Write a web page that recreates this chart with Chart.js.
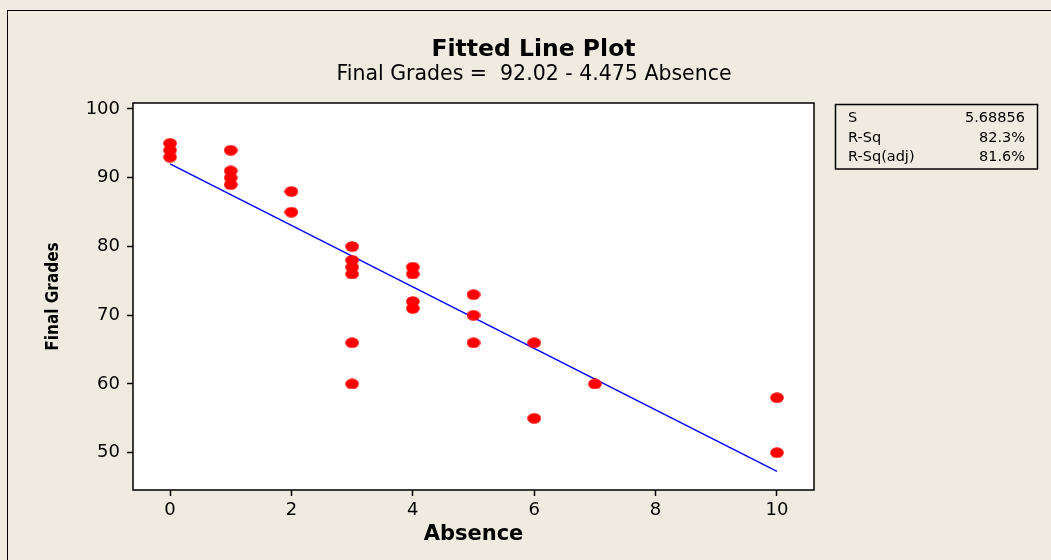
<!DOCTYPE html>
<html>
<head>
    <meta charset="UTF-8">
    <title>Fitted Line Plot</title>
    <script src="https://cdn.jsdelivr.net/npm/chart.js@4.4.1/dist/chart.umd.min.js"></script>
    <style>
        html, body {
            margin: 0;
            padding: 0;
            background: #EFEBE0;
        }
        #wrap {
            width: 1051px;
            height: 560px;
        }
    </style>
</head>
<body>
    <div id="wrap"><canvas id="chart" width="1051" height="560"></canvas></div>

    <script>
        // 観測値 (Absence, Final Grades)
        const absence = [0, 0, 0, 1, 1, 1, 1, 2, 2, 3, 3, 3, 3, 3, 3, 4, 4, 4, 4, 5, 5, 5, 6, 6, 7, 10, 10];
        const grades  = [95, 94, 93, 94, 91, 90, 89, 88, 85, 80, 78, 77, 76, 66, 60, 77, 76, 72, 71, 73, 70, 66, 66, 55, 60, 58, 50];

        // 回帰直線の両端 (Final Grades = 92.02 - 4.475 Absence)
        const fitX = [0, 10];
        const fitY = [92.02, 47.27];

        const xTicks = [0, 2, 4, 6, 8, 10];
        const yTicks = [50, 60, 70, 80, 90, 100];

        const titleText = 'Fitted Line Plot';
        const subtitleText = 'Final Grades =  92.02 - 4.475 Absence';
        const statLabels = ['S', 'R-Sq', 'R-Sq(adj)'];
        const statValues = ['5.68856', '82.3%', '81.6%'];

        const FONT = "'DejaVu Sans', Verdana, sans-serif";
        const NARROW = "'Liberation Sans Narrow', 'DejaVu Sans Condensed', 'Arial Narrow', 'DejaVu Sans', sans-serif";

        // 楕円の点マーカー
        const dot = document.createElement('canvas');
        dot.width = 14;
        dot.height = 11;
        const dctx = dot.getContext('2d');
        dctx.fillStyle = '#FF0000';
        dctx.beginPath();
        dctx.ellipse(7, 5.5, 6.8, 5.2, 0, 0, Math.PI * 2);
        dctx.fill();

        // 背景・枠・タイトル・統計ボックス
        const decor = {
            id: 'decor',
            beforeDraw(chart) {
                const {ctx, chartArea: a} = chart;
                ctx.save();
                ctx.fillStyle = '#EFEBE0';
                ctx.fillRect(0, 0, chart.width, chart.height);
                ctx.strokeStyle = '#000';
                ctx.lineWidth = 1;
                ctx.strokeRect(7.5, 10.5, 3000, 3000);
                ctx.fillStyle = '#FFFFFF';
                ctx.fillRect(a.left, a.top, a.right - a.left, a.bottom - a.top);
                ctx.restore();
            },
            afterDraw(chart) {
                const {ctx, chartArea: a} = chart;
                ctx.save();
                ctx.strokeStyle = '#000';
                ctx.lineWidth = 1.5;
                ctx.strokeRect(a.left, a.top, a.right - a.left, a.bottom - a.top);

                ctx.fillStyle = '#000';
                ctx.textAlign = 'center';
                ctx.textBaseline = 'middle';
                ctx.font = 'bold 23.5px ' + FONT;
                ctx.fillText(titleText, 533.5, 50);
                ctx.font = '20.5px ' + FONT;
                ctx.fillText(subtitleText, 534, 75);

                ctx.lineWidth = 1.5;
                ctx.strokeRect(835.5, 104.5, 202, 64.5);
                ctx.font = '14.5px ' + FONT;
                statLabels.forEach((s, i) => {
                    const y = 118.5 + i * 19.5;
                    ctx.textAlign = 'left';
                    ctx.fillText(s, 848, y);
                    ctx.textAlign = 'right';
                    ctx.fillText(statValues[i], 1025, y);
                });
                ctx.restore();
            }
        };

        const tickGrid = {
            display: true,
            drawOnChartArea: false,
            drawTicks: true,
            tickLength: 6,
            tickColor: '#000',
            tickWidth: 1.5
        };

        new Chart(document.getElementById('chart'), {
            type: 'scatter',
            data: {
                datasets: [{
                    label: 'Final Grades',
                    data: absence.map((x, i) => ({x: x, y: grades[i]})),
                    pointStyle: dot,
                    pointRadius: 6,
                    order: 0
                }, {
                    label: 'Fit',
                    data: fitX.map((x, i) => ({x: x, y: fitY[i]})),
                    showLine: true,
                    borderColor: '#0000FF',
                    borderWidth: 1.5,
                    pointRadius: 0,
                    order: 1
                }]
            },
            options: {
                responsive: false,
                animation: false,
                events: [],
                layout: {padding: {top: 103, right: 237, bottom: 0, left: 0}},
                plugins: {
                    legend: {display: false},
                    tooltip: {enabled: false}
                },
                scales: {
                    x: {
                        type: 'linear',
                        min: -0.61,
                        max: 10.61,
                        border: {display: false},
                        grid: tickGrid,
                        afterBuildTicks: axis => { axis.ticks = xTicks.map(v => ({value: v})); },
                        afterFit: axis => { axis.height = 70; },
                        ticks: {
                            color: '#000',
                            padding: 4,
                            font: {family: FONT, size: 18}
                        },
                        title: {
                            display: true,
                            text: 'Absence',
                            color: '#000',
                            padding: {top: 0, bottom: 13},
                            font: {family: FONT, size: 21, weight: 'bold', lineHeight: 1.2}
                        }
                    },
                    y: {
                        type: 'linear',
                        min: 44.57,
                        max: 100.87,
                        border: {display: false},
                        grid: tickGrid,
                        afterBuildTicks: axis => { axis.ticks = yTicks.map(v => ({value: v})); },
                        afterFit: axis => { axis.width = 133; },
                        ticks: {
                            color: '#000',
                            padding: 7,
                            font: {family: FONT, size: 18}
                        },
                        title: {
                            display: true,
                            text: 'Final Grades',
                            color: '#000',
                            padding: {top: 43, bottom: 0},
                            font: {family: NARROW, size: 17, weight: 'bold', lineHeight: 1.2}
                        }
                    }
                }
            },
            plugins: [decor]
        });
    </script>
</body>
</html>
